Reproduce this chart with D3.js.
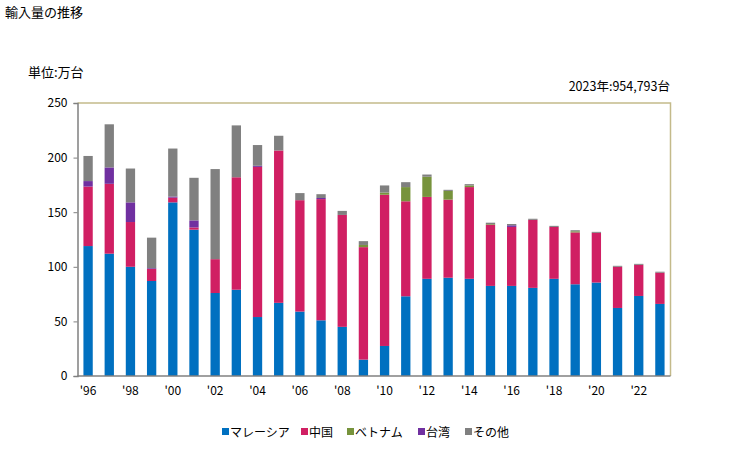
<!DOCTYPE html>
<html><head><meta charset="utf-8">
<script src="https://cdn.jsdelivr.net/npm/d3@7"></script>
<style>body{margin:0;background:#fff;}svg{display:block;font-family:"Noto Sans CJK JP","Noto Sans",sans-serif;}</style>
</head><body><svg id="c" width="729" height="450"></svg>
<script>
const years = [1996,1997,1998,1999,2000,2001,2002,2003,2004,2005,2006,2007,2008,2009,2010,2011,2012,2013,2014,2015,2016,2017,2018,2019,2020,2021,2022,2023];
const seriesNames = ["マレーシア","中国","ベトナム","台湾","その他"];
const seriesColors = ["#0070C0","#D01F63","#77933C","#7030A0","#808080"];
const malaysia = [119,112,100,87,159,134,76,79,54,67,59,51,45,15,27.5,73,89,90,89,82.5,82.5,80.7,89,84,85.6,62.3,73.3,66];
const china    = [54.5,64,41,11,4.3,2,31,103,137.5,139.5,102,111,102.5,103,138.5,87,75,71.5,84,56,54,62.3,47.5,47.5,45.5,37.7,28.5,28.6];
const vietnam  = [0,0,0,0,0,0,0,0,0,0,0,0,0,2,2,13,18.5,8,1.5,0.6,0,0,0,1,0,0,0,0];
const taiwan   = [5,15,18,0.7,1,6.5,0,0,1,0,0,1,0,0,0,0,0,0,0,0,1.5,0,0,0,0,0,0,0];
const others   = [23,39.5,31,28,44,39,82.5,47.5,19,13.5,6.5,3.5,3.7,3.5,6.5,4.5,2,1,1.2,1.3,1.2,1,1,1,0.9,0.9,0.9,0.9];
const yTicks = [0,50,100,150,200,250];
const xLabelYears = [1996,1998,2000,2002,2004,2006,2008,2010,2012,2014,2016,2018,2020,2022];

const seriesData = [malaysia,china,vietnam,taiwan,others];
const rows = years.map((y,i)=>{const r={year:y};seriesNames.forEach((n,k)=>r[n]=seriesData[k][i]);return r;});

const svg = d3.select("#c");
const m = {l:77.5,t:103,r:670.5,b:376};
const x = d3.scaleBand().domain(years).range([m.l,m.r]).paddingInner(0.56).paddingOuter(0.28);
const y = d3.scaleLinear().domain([0,250]).range([m.b,m.t]);

svg.append("text").attr("x",5).attr("y",17).attr("font-size",13).attr("fill","#000").text("輸入量の推移");
svg.append("text").attr("x",28).attr("y",77).attr("font-size",13).attr("fill","#000").text("単位:万台");
svg.append("text").attr("x",670).attr("y",91).attr("text-anchor","end").attr("font-size",12.5).attr("fill","#000").text("2023年:954,793台");

// frame top/right
svg.append("path").attr("d",`M${m.l},${m.t}H${m.r}V${m.b}`).attr("fill","none").attr("stroke","#C4BA8A").attr("stroke-width",1.5);

const stack = d3.stack().keys(seriesNames)(rows);
svg.append("g").selectAll("g").data(stack).join("g").attr("fill",(d,i)=>seriesColors[i])
  .selectAll("rect").data(d=>d).join("rect")
  .attr("x",d=>x(d.data.year)).attr("width",x.bandwidth())
  .attr("y",d=>y(d[1])).attr("height",d=>Math.max(0,y(d[0])-y(d[1])));

// y axis
const ya = svg.append("g").attr("transform",`translate(${m.l},0)`)
  .call(d3.axisLeft(y).tickValues(yTicks).tickSize(4).tickPadding(6).tickFormat(d3.format("d")));
ya.select(".domain").attr("stroke","#808080").attr("stroke-width",1.5);
ya.selectAll(".tick line").attr("stroke","#808080");
ya.selectAll("text").attr("font-size",12).attr("fill","#000").attr("font-family","Noto Sans CJK JP, sans-serif");

// x axis
const xa = svg.append("g").attr("transform",`translate(0,${m.b})`)
  .call(d3.axisBottom(x).tickValues(xLabelYears).tickSize(0).tickPadding(10).tickFormat(d=>"'"+String(d).slice(2)));
xa.select(".domain").attr("stroke","#808080").attr("stroke-width",1.5).attr("d",`M${m.l},0H${m.r}`);
xa.selectAll("text").attr("font-size",12).attr("fill","#000").attr("font-family","Noto Sans CJK JP, sans-serif");

// legend
const legX = [222,301,347,418,465];
const lg = svg.append("g");
seriesNames.forEach((n,i)=>{
  const g = lg.append("g").attr("transform",`translate(${legX[i]},432)`);
  g.append("rect").attr("x",0).attr("y",-4).attr("width",7).attr("height",7).attr("fill",seriesColors[i]);
  g.append("text").attr("x",8).attr("y",5).attr("font-size",12).attr("fill","#000").text(n);
});
</script></body></html>
